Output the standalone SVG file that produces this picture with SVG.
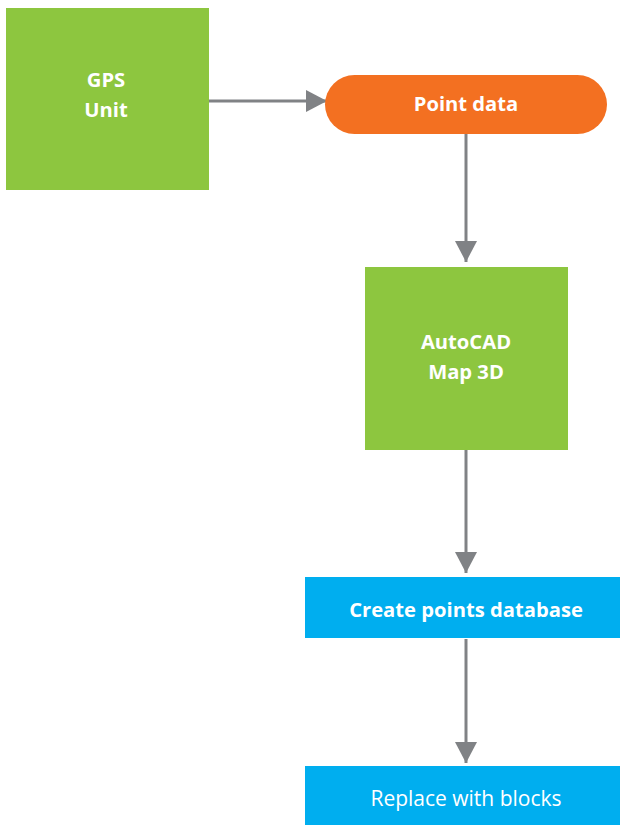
<svg xmlns="http://www.w3.org/2000/svg" width="620" height="825" viewBox="0 0 620 825">
<style>
.t{font-family:"Open Sans","Noto Sans","Liberation Sans",sans-serif;fill:#fff;text-anchor:middle}
.b{font-weight:bold;font-size:20.2px}
.n{font-size:21px}
.c{stroke:#808285;stroke-width:3;fill:none}
</style>
<defs>
<marker id="ah" markerUnits="userSpaceOnUse" markerWidth="22" markerHeight="22" refX="21" refY="11" orient="auto">
<path d="M0,0 L21,11 L0,22 Z" fill="#808285"/>
</marker>
</defs>
<rect width="620" height="825" fill="#fff"/>
<g id="connectors">
<line class="c" x1="208" y1="101" x2="327" y2="101" marker-end="url(#ah)"/>
<line class="c" x1="466" y1="134" x2="466" y2="262" marker-end="url(#ah)"/>
<line class="c" x1="466" y1="450" x2="466" y2="573" marker-end="url(#ah)"/>
<line class="c" x1="466" y1="639" x2="466" y2="763" marker-end="url(#ah)"/>
</g>
<g id="gps">
<rect x="6" y="8" width="203" height="182" fill="#8dc63f"/>
<text class="t b" x="106" y="87">GPS</text>
<text class="t b" x="106" y="117">Unit</text>
</g>
<g id="pointdata">
<rect x="325" y="75" width="282" height="59" rx="29.5" fill="#f37021"/>
<text class="t b" x="466" y="111">Point data</text>
</g>
<g id="autocad">
<rect x="365" y="267" width="203" height="183" fill="#8dc63f"/>
<text class="t b" x="466" y="349">AutoCAD</text>
<text class="t b" x="466" y="379">Map 3D</text>
</g>
<g id="createdb">
<rect x="305" y="577" width="315" height="61" fill="#00aeef"/>
<text class="t b" x="466" y="617">Create points database</text>
</g>
<g id="replace">
<rect x="305" y="766" width="315" height="59" fill="#00aeef"/>
<text class="t n" x="466" y="806">Replace with blocks</text>
</g>
</svg>
